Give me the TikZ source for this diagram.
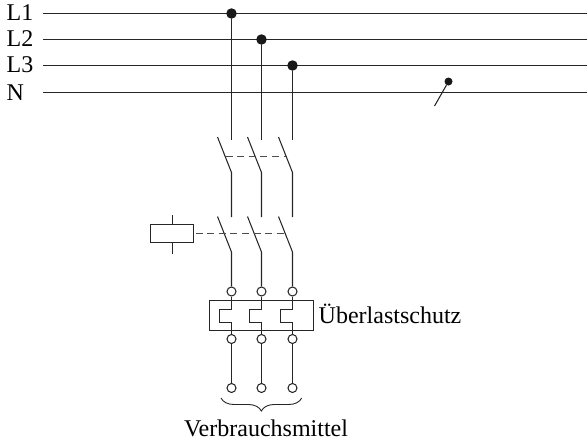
\documentclass[tikz,border=0pt]{standalone}
\usepackage{fontspec}
\setmainfont{Liberation Serif}
\usetikzlibrary{decorations.pathreplacing}
\tikzset{
  wire/.style={line width=1.05pt,draw=black!85},
  dot/.style={circle,fill=black!90,inner sep=0pt,minimum size=10.5pt},
  smalldot/.style={circle,fill=black!90,inner sep=0pt,minimum size=8pt},
  term/.style={circle,draw=black!85,line width=1.05pt,fill=white,inner sep=0pt,minimum size=9pt},
  link/.style={line width=1.05pt,draw=black!70,dash pattern=on 7pt off 4.6pt},
  lab/.style={inner sep=0pt,font=\fontsize{24}{24}\selectfont,anchor=base west},
}
\begin{document}
\begin{tikzpicture}[x=1pt,y=-1pt]
\useasboundingbox (0,0) rectangle (587,442);
% labels
\node[lab] (tL1) at (6.5,20.7) {L1};
\node[lab] (tL2) at (6.5,46.7) {L2};
\node[lab] (tL3) at (6.5,72.7) {L3};
\node[lab] (tN) at (6.5,100) {N};
% phases
\coordinate (a1) at (43,13.5); \coordinate (b1) at (587,13.5);
\coordinate (a2) at (43,39.5); \coordinate (b2) at (587,39.5);
\coordinate (a3) at (43,65.5); \coordinate (b3) at (587,65.5);
\coordinate (a4) at (43,92.5); \coordinate (b4) at (587,92.5);
\draw[wire] (a1)--(b1); \draw[wire] (a2)--(b2); \draw[wire] (a3)--(b3); \draw[wire] (a4)--(b4);
% overload box
\draw[wire] (209.5,300.5) rectangle (313.5,330.5);
% each pole
\foreach \n/\x/\y in {1/231.5/13.5,2/261.5/39.5,3/292.5/65.5}{
  \node[dot] (d\n) at (\x,\y) {};
  \coordinate (s\n) at (\x,140);
  \draw[wire] (d\n)--(s\n);
  % main switch
  \coordinate (ua\n) at (\x-14,137); \coordinate (ub\n) at (\x,172.5); \coordinate (uc\n) at (\x,217);
  \draw[wire] (ua\n)--(ub\n)--(uc\n);
  % contactor
  \coordinate (la\n) at (\x-14,216.5); \coordinate (lb\n) at (\x,252);
  \node[term] (t\n) at (\x,291.5) {};
  \draw[wire] (la\n)--(lb\n)--(t\n);
  % thermal
  \node[term] (m\n) at (\x,339) {};
  \node[term] (e\n) at (\x,388) {};
  \draw[wire] (t\n)--(\x,309.5)--(\x-12,309.5)--(\x-12,322.5)--(\x,322.5)--(m\n);
  \draw[wire] (m\n)--(e\n);
}
% mechanical links
\coordinate (k1) at (225.5,156.5); \coordinate (k2) at (286,156.5);
\draw[link] (k1)--(k2);
\node[draw=black!85,line width=1.05pt,fill=white,minimum width=43pt,minimum height=18pt,inner sep=0pt] (coil) at (172,233.5) {};
\coordinate (k3) at (285,233.5);
\draw[link] ([xshift=1.5pt]coil.east)--(k3);
\coordinate (c1) at (172.5,215); \coordinate (c2) at (172.5,254);
\draw[wire] (c1)--(coil.north-|c1);
\draw[wire] (coil.south-|c2)--(c2);
% N
\node[smalldot] (nd) at (448.5,81.5) {};
\coordinate (ne) at (434.5,106);
\draw[wire] (nd)--(ne);
\node[lab] (ue) at (318.5,323.3) {Überlastschutz};
% brace
\coordinate (br1) at (221,398); \coordinate (br2) at (301.7,398);
\draw[line width=0.9pt,draw=black!85,decorate,decoration={brace,amplitude=13pt}] (br2)--(br1);
\node[lab,anchor=base] (vm) at (266,436.7) {Verbrauchsmittel};
\end{tikzpicture}
\end{document}
